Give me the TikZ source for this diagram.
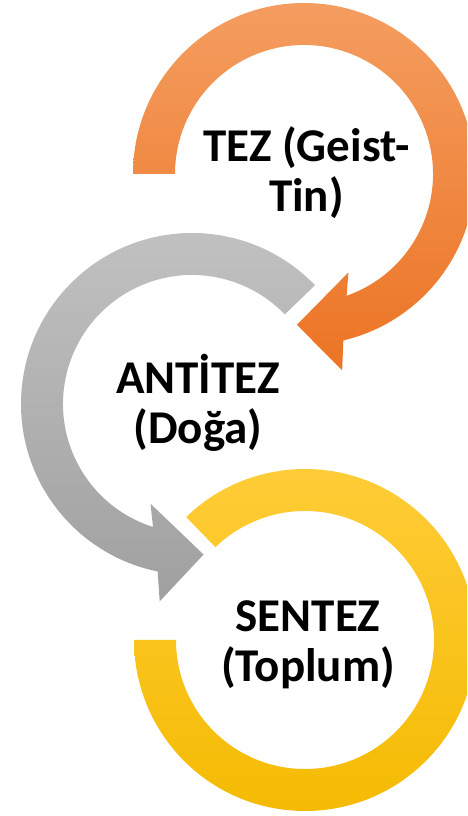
\documentclass[tikz,border=0pt]{standalone}
\usepackage{fontspec}
\setmainfont{Carlito}
\usetikzlibrary{positioning}

\definecolor{tezlight}{HTML}{F49D60}
\definecolor{tezdark}{HTML}{EC7424}
\definecolor{antilight}{HTML}{C2C2C2}
\definecolor{antidark}{HTML}{A0A0A0}
\definecolor{senlight}{HTML}{FFCD3A}
\definecolor{sendark}{HTML}{F4BA00}

\begin{document}
\begin{tikzpicture}[
            x = 1pt,
            y = 1pt,
            ring/.style 2 args = {
                top color = #1,
                bottom color = #2
            },
            title/.style = {
                font = \fontsize{47}{50}\selectfont\bfseries,
                align = center,
                inner sep = 0pt,
                anchor = base
            }
            ]
            \useasboundingbox (0,0) rectangle (467,816);
            \clip (0,0) rectangle (467,816);

            % tez ring, arrow at the bottom
            \shade[ring={tezlight}{tezdark}, shift={(304,642)}]
                (180:171) arc[start angle=180, end angle=-76.7, radius=171]
                -- (-79:200) -- (-92.7:151) -- (-65.7:108) -- (-70.7:129)
                arc[start angle=-70.7, end angle=180, radius=129] -- cycle;

            % antitez ring, arrow at the bottom
            \shade[ring={antilight}{antidark}, shift={(192,412)}]
                (44:171) arc[start angle=44, end angle=258.4, radius=171]
                -- (260.7:200) -- (274.4:151) -- (247.4:108) -- (252.4:129)
                arc[start angle=252.4, end angle=44, radius=129] -- cycle;

            % sentez ring
            \shade[ring={senlight}{sendark}, shift={(305,176)}]
                (134:171) arc[start angle=134, end angle=-180, radius=171]
                -- (180:129)
                arc[start angle=-180, end angle=134, radius=129] -- cycle;

            \node[title] (tez) at (306.5,604.3) {TEZ (Geist-\\Tin)};
            \node[title] (antitez) at (198,372.5) {ANTİTEZ\\(Doğa)};
            \node[title] (sentez) at (308,134.3) {SENTEZ\\(Toplum)};
        \end{tikzpicture}
\end{document}
